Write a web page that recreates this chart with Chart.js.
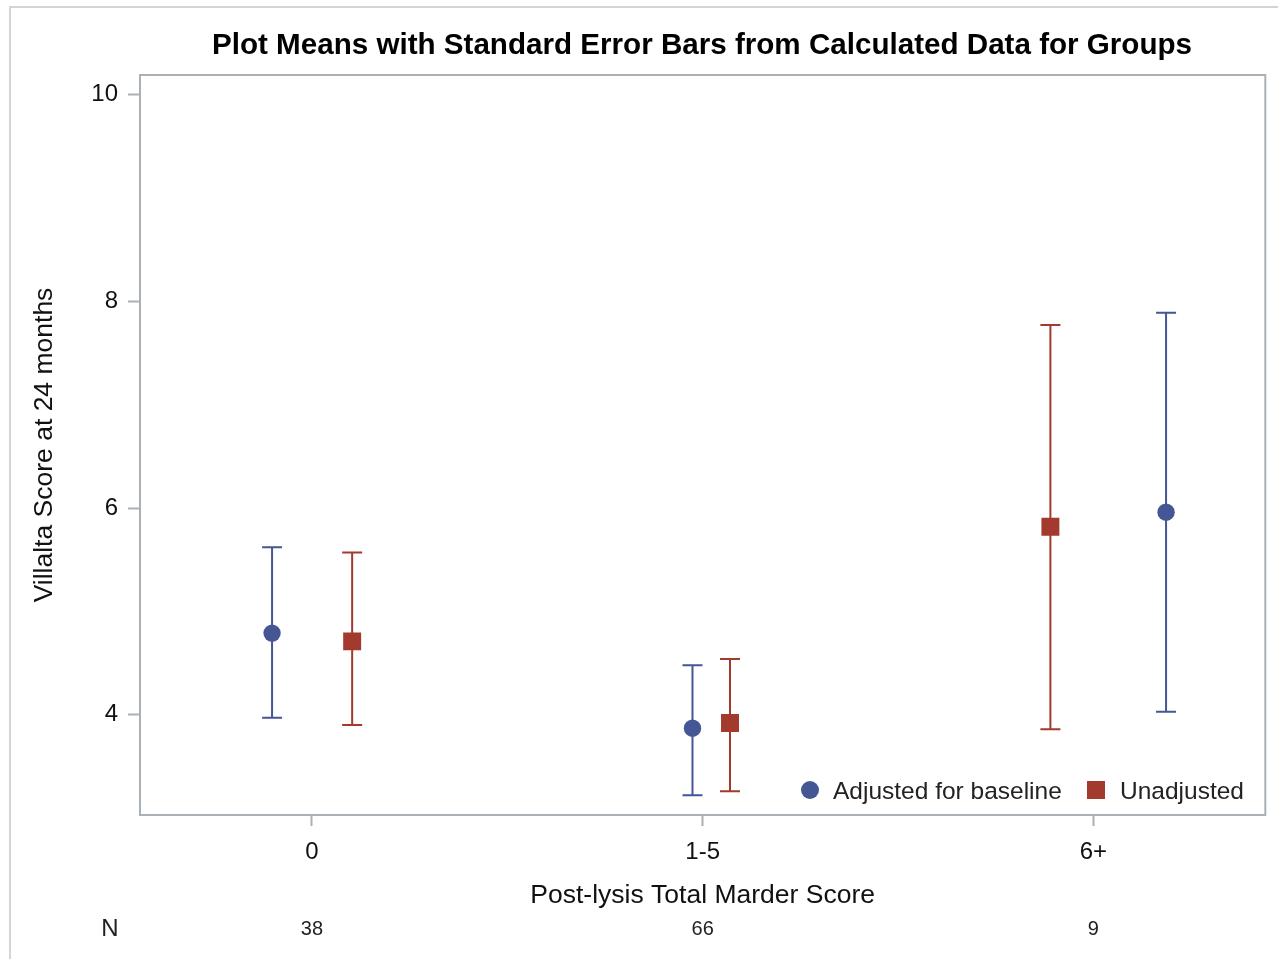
<!DOCTYPE html>
<html>
<head>
<meta charset="utf-8">
<script src="https://cdn.jsdelivr.net/npm/chart.js@4.4.1/dist/chart.umd.min.js"></script>
<style>
  html, body { margin: 0; padding: 0; background: #ffffff; }
  #wrap { width: 1278px; height: 959px; position: relative; }
</style>
</head>
<body>
<div id="wrap"><canvas id="c" width="1278" height="959"></canvas></div>
<script>
// Groups of post-lysis Marder score and their sizes
const groups = ['0', '1-5', '6+'];
const groupN = [38, 66, 9];
const yTicks = [4, 6, 8, 10];

// Where each marker sits inside its group (in group units)
const adjOffset = [-0.102, -0.026, 0.186];
const unadjOffset = [0.103, 0.070, -0.110];

// Adjusted for baseline: mean and mean +/- standard error
const adjMean  = [4.79, 3.87, 5.96];
const adjLower = [3.97, 3.22, 4.03];
const adjUpper = [5.62, 4.48, 7.89];

// Unadjusted: mean and mean +/- standard error
const unadjMean  = [4.71, 3.92, 5.82];
const unadjLower = [3.90, 3.26, 3.86];
const unadjUpper = [5.57, 4.54, 7.77];

const BLUE = '#445694';
const RED = '#A23A2E';
const AXIS = '#A9B1B6';
const FONT = '"Liberation Sans", Arial, Helvetica, sans-serif';

Chart.defaults.font.family = FONT;
Chart.defaults.color = '#000000';

function points(offset, mean, lower, upper) {
  return groups.map((g, i) => ({ x: i + offset[i], y: mean[i], lo: lower[i], hi: upper[i] }));
}

// Vertical standard-error bars with end caps, drawn under the markers
const errorBars = {
  id: 'errorBars',
  beforeDatasetsDraw(chart) {
    const { ctx, scales: { x, y } } = chart;
    ctx.save();
    chart.data.datasets.forEach((ds) => {
      ctx.strokeStyle = ds.backgroundColor;
      ctx.lineWidth = 2;
      ds.data.forEach((p) => {
        const px = x.getPixelForValue(p.x);
        const top = y.getPixelForValue(p.hi);
        const bot = y.getPixelForValue(p.lo);
        ctx.beginPath();
        ctx.moveTo(px, top); ctx.lineTo(px, bot);
        ctx.moveTo(px - 10, top); ctx.lineTo(px + 10, top);
        ctx.moveTo(px - 10, bot); ctx.lineTo(px + 10, bot);
        ctx.stroke();
      });
    });
    ctx.restore();
  }
};

// Title, frame, outer border, legend and the N row
const decorations = {
  id: 'decorations',
  afterDraw(chart) {
    const { ctx, chartArea: a, scales: { x } } = chart;
    ctx.save();

    // outer border (top and left edges)
    ctx.strokeStyle = '#D4D4D4';
    ctx.lineWidth = 2;
    ctx.beginPath();
    ctx.moveTo(10, 959); ctx.lineTo(10, 7); ctx.lineTo(1278, 7);
    ctx.stroke();

    // plot frame
    ctx.strokeStyle = AXIS;
    ctx.lineWidth = 2;
    ctx.strokeRect(a.left, a.top, a.right - a.left, a.bottom - a.top);

    // title
    ctx.fillStyle = '#000000';
    ctx.font = 'bold 29.6px ' + FONT;
    ctx.textAlign = 'center';
    ctx.textBaseline = 'middle';
    ctx.fillText('Plot Means with Standard Error Bars from Calculated Data for Groups', 702, 46);

    // legend
    ctx.textAlign = 'left';
    ctx.font = '24.5px ' + FONT;
    ctx.fillStyle = BLUE;
    ctx.beginPath();
    ctx.arc(810, 790, 9, 0, Math.PI * 2);
    ctx.fill();
    ctx.fillStyle = '#222222';
    ctx.fillText('Adjusted for baseline', 833, 792);
    ctx.fillStyle = RED;
    ctx.fillRect(1087, 781, 18, 18);
    ctx.fillStyle = '#222222';
    ctx.fillText('Unadjusted', 1120, 792);

    // N row
    ctx.font = '24px ' + FONT;
    ctx.textAlign = 'center';
    ctx.fillText('N', 110, 929);
    ctx.font = '20px ' + FONT;
    groupN.forEach((n, i) => {
      ctx.fillText(String(n), x.getPixelForValue(i), 929);
    });

    ctx.restore();
  }
};

new Chart(document.getElementById('c'), {
  type: 'scatter',
  data: {
    datasets: [
      {
        label: 'Adjusted for baseline',
        data: points(adjOffset, adjMean, adjLower, adjUpper),
        backgroundColor: BLUE,
        borderColor: BLUE,
        pointStyle: 'circle',
        pointRadius: 8.7,
        pointBorderWidth: 0
      },
      {
        label: 'Unadjusted',
        data: points(unadjOffset, unadjMean, unadjLower, unadjUpper),
        backgroundColor: RED,
        borderColor: RED,
        pointStyle: 'rect',
        pointRadius: 12.7,
        pointBorderWidth: 0
      }
    ]
  },
  options: {
    responsive: false,
    animation: false,
    events: [],
    layout: { padding: { top: 75, right: 12, left: 0, bottom: 0 } },
    plugins: {
      legend: { display: false },
      title: { display: false },
      tooltip: { enabled: false }
    },
    scales: {
      x: {
        type: 'linear',
        min: -0.44,
        max: 2.44,
        afterBuildTicks: (s) => { s.ticks = groups.map((g, i) => ({ value: i })); },
        afterFit: (s) => { s.height = 144; },
        ticks: {
          callback: (v) => groups[v] ?? '',
          font: { size: 24 },
          color: '#111111',
          padding: 12,
          maxRotation: 0,
          autoSkip: false
        },
        grid: { display: true, drawOnChartArea: false, drawTicks: true, tickLength: 11, tickColor: AXIS, tickWidth: 2 },
        border: { display: false },
        title: {
          display: true,
          text: 'Post-lysis Total Marder Score',
          font: { size: 26.5 },
          color: '#111111',
          padding: { top: 0, bottom: 47 }
        }
      },
      y: {
        type: 'linear',
        min: 3.03,
        max: 10.19,
        afterBuildTicks: (s) => { s.ticks = yTicks.map((v) => ({ value: v })); },
        afterFit: (s) => { s.width = 140; },
        ticks: {
          font: { size: 24 },
          color: '#111111',
          padding: 10
        },
        grid: { display: true, drawOnChartArea: false, drawTicks: true, tickLength: 12, tickColor: AXIS, tickWidth: 2 },
        border: { display: false },
        title: {
          display: true,
          text: 'Villalta Score at 24 months',
          font: { size: 26.5 },
          color: '#111111',
          padding: { top: 29, bottom: 0 }
        }
      }
    }
  },
  plugins: [errorBars, decorations]
});
</script>
</body>
</html>
